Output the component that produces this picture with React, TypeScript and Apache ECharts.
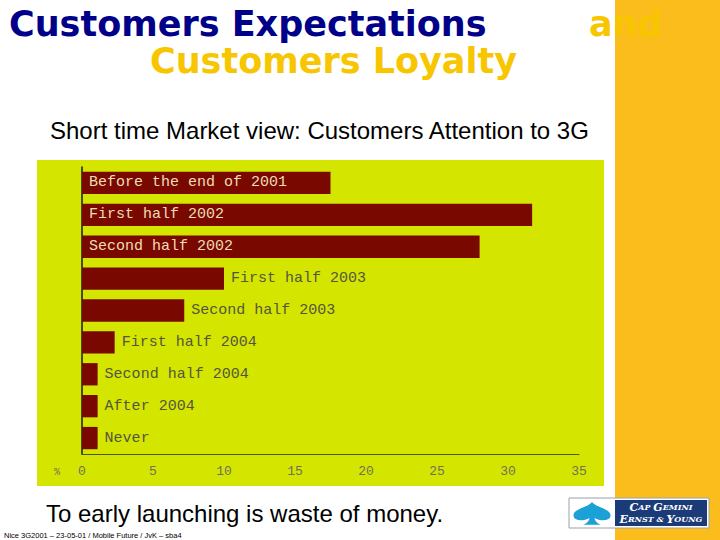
import React, { useEffect, useRef } from "react";
import * as echarts from "echarts";

const categories = [
  "Before the end of 2001",
  "First half 2002",
  "Second half 2002",
  "First half 2003",
  "Second half 2003",
  "First half 2004",
  "Second half 2004",
  "After 2004",
  "Never",
];
const values = [17.5, 31.7, 28.0, 10.0, 7.2, 2.3, 1.1, 1.1, 1.1];
const xTicks = { min: 0, max: 35, interval: 5 };
const unitLabel = "%";

const titleLine1 = "Customers Expectations";
const titleAnd = "and";
const titleLine2 = "Customers Loyalty";
const subtitle = "Short time Market view: Customers Attention to 3G";
const footerText = "To early launching is waste of money.";
const footnote = "Nice 3G2001 \u2013 23-05-01 / Mobile Future / JvK \u2013 sba4";

const SPADE =
  "M50 0 C60 15 100 18 96 38 C93 50 72 51 56 42 C58 50 62 56 72 60 L28 60 C38 56 42 50 44 42 C28 51 7 50 4 38 C0 18 40 15 50 0 Z";

echarts.graphic.registerShape("spade", echarts.graphic.extendPath(SPADE, {}));

const BAR = "#780800";
const PANEL = "#d4e600";
const ORANGE = "#fbbd1c";
const YELLOW = "#f8c600";
const NAVY = "#000088";

const logoRich = {
  b: { fontFamily: "DejaVu Serif", fontStyle: "italic", fontWeight: "bold", fontSize: 11, fill: "#ffffff" },
  s: { fontFamily: "DejaVu Serif", fontStyle: "italic", fontWeight: "bold", fontSize: 8, fill: "#ffffff" },
};

export default function App() {
  const ref = useRef<HTMLDivElement>(null);
  useEffect(() => {
    if (!ref.current) return;
    const chart = echarts.init(ref.current, null, { renderer: "svg" });
    const data = values.map((v) => {
      const inside = v > 15;
      return {
        value: v,
        label: inside
          ? { position: "insideLeft", distance: 7, color: "#f0dcb4" }
          : { position: "right", distance: 7, color: "#55553f" },
      };
    });
    chart.setOption({
      animation: false,
      backgroundColor: "#ffffff",
      grid: { left: 82, right: 141, top: 167, bottom: 86 },
      xAxis: {
        type: "value",
        min: xTicks.min,
        max: xTicks.max,
        interval: xTicks.interval,
        splitLine: { show: false },
        axisTick: { show: false },
        axisLine: { show: true, lineStyle: { color: "#4d5520", width: 1 } },
        axisLabel: {
          color: "#707058",
          fontFamily: "Liberation Mono",
          fontSize: 13,
          margin: 11,
        },
      },
      yAxis: {
        type: "category",
        inverse: true,
        data: categories,
        axisTick: { show: false },
        axisLabel: { show: false },
        axisLine: { show: true, lineStyle: { color: "#1a1a10", width: 1.5 } },
      },
      series: [
        {
          type: "bar",
          data,
          barWidth: "70%",
          itemStyle: { color: BAR },
          label: {
            show: true,
            formatter: "{b}",
            fontFamily: "Liberation Mono",
            fontSize: 15,
          },
          z: 3,
        },
      ],
      graphic: [
        { type: "rect", z: -10, shape: { x: 615, y: 0, width: 105, height: 540 }, style: { fill: ORANGE } },
        { type: "rect", z: -10, shape: { x: 37, y: 160, width: 567, height: 326 }, style: { fill: PANEL } },
        {
          type: "text",
          style: {
            text: titleLine1,
            x: 9,
            y: 24,
            fill: NAVY,
            font: "bold 35px 'DejaVu Sans'",
            textVerticalAlign: "middle",
          },
        },
        {
          type: "text",
          style: {
            text: titleAnd,
            x: 589,
            y: 24,
            fill: YELLOW,
            font: "bold 35px 'DejaVu Sans'",
            textVerticalAlign: "middle",
          },
        },
        {
          type: "text",
          style: {
            text: titleLine2,
            x: 150,
            y: 61,
            fill: YELLOW,
            font: "bold 35px 'DejaVu Sans'",
            textVerticalAlign: "middle",
          },
        },
        {
          type: "text",
          style: {
            text: subtitle,
            x: 50,
            y: 130,
            fill: "#000000",
            font: "24px 'Liberation Sans'",
            textVerticalAlign: "middle",
          },
        },
        {
          type: "text",
          style: {
            text: unitLabel,
            x: 57,
            y: 472,
            fill: "#707058",
            font: "10px 'Liberation Mono'",
            textAlign: "center",
            textVerticalAlign: "middle",
          },
        },
        {
          type: "text",
          style: {
            text: footerText,
            x: 46,
            y: 513,
            fill: "#000000",
            font: "24px 'Liberation Sans'",
            textVerticalAlign: "middle",
          },
        },
        {
          type: "text",
          style: {
            text: footnote,
            x: 4,
            y: 535,
            fill: "#000000",
            font: "7.5px 'Liberation Sans'",
            textVerticalAlign: "middle",
          },
        },
        {
          type: "rect",
          shape: { x: 569, y: 498, width: 140, height: 30 },
          style: { fill: "#ffffff", stroke: "#9aa0aa", lineWidth: 1 },
        },
        {
          type: "rect",
          shape: { x: 615, y: 500, width: 92, height: 26 },
          style: { fill: "#1b3a78" },
        },
        {
          type: "spade",
          x: 572,
          y: 502,
          scaleX: 0.4,
          scaleY: 0.38,
          style: { fill: "#1ba0d8" },
        },
        {
          type: "text",
          style: {
            text: "{b|C}{s|AP }{b|G}{s|EMINI}",
            x: 661,
            y: 507,
            fill: "#ffffff",
            textAlign: "center",
            textVerticalAlign: "middle",
            rich: logoRich,
          },
        },
        {
          type: "text",
          style: {
            text: "{b|E}{s|RNST & }{b|Y}{s|OUNG}",
            x: 661,
            y: 519,
            fill: "#ffffff",
            textAlign: "center",
            textVerticalAlign: "middle",
            rich: logoRich,
          },
        },
      ],
    });
    return () => chart.dispose();
  }, []);
  return (
    <div
      ref={ref}
      style={{ position: "absolute", left: 0, top: 0, width: 720, height: 540 }}
    />
  );
}
